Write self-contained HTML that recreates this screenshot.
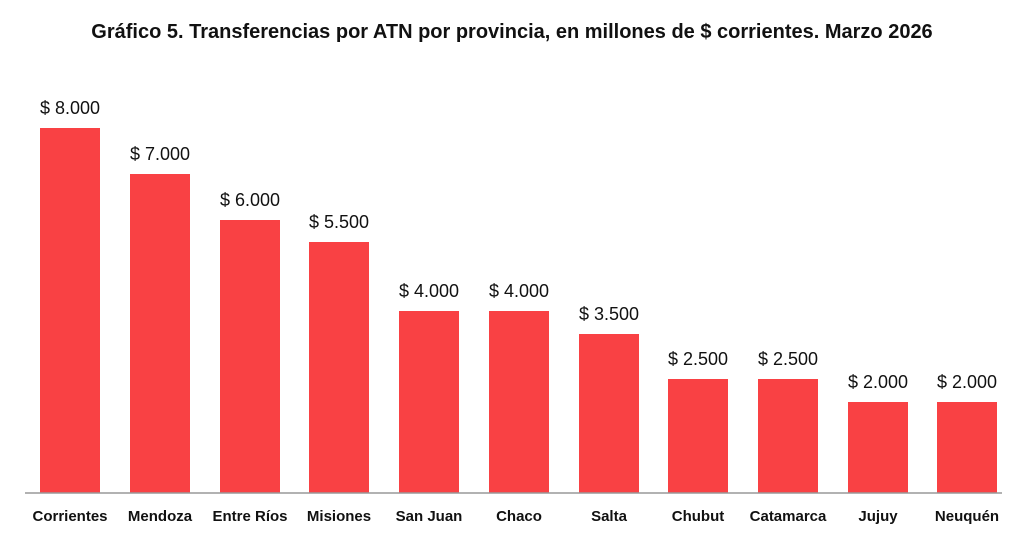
<!DOCTYPE html>
<html><head><meta charset="utf-8"><style>
body{margin:0;background:#fff;width:1024px;height:550px;overflow:hidden}
</style></head><body>
<svg width="1024" height="550" xmlns="http://www.w3.org/2000/svg">
<text x="512" y="38" text-anchor="middle" font-family="'Liberation Sans Narrow','Liberation Sans',sans-serif" font-weight="bold" font-size="20" fill="#111">Gráfico 5. Transferencias por ATN por provincia, en millones de $ corrientes. Marzo 2026</text>
<g fill="#f94144">
<rect x="40" y="128" width="60" height="365"/>
<rect x="130" y="174" width="60" height="319"/>
<rect x="220" y="220" width="60" height="273"/>
<rect x="309" y="242" width="60" height="251"/>
<rect x="399" y="311" width="60" height="182"/>
<rect x="489" y="311" width="60" height="182"/>
<rect x="579" y="334" width="60" height="159"/>
<rect x="668" y="379" width="60" height="114"/>
<rect x="758" y="379" width="60" height="114"/>
<rect x="848" y="402" width="60" height="91"/>
<rect x="937" y="402" width="60" height="91"/>
</g>
<line x1="25" y1="493" x2="1002" y2="493" stroke="#999" stroke-width="1.5"/>
<g font-family="'Liberation Sans',sans-serif" font-size="18" fill="#111" text-anchor="middle">
<text x="70" y="114">$ 8.000</text>
<text x="160" y="160">$ 7.000</text>
<text x="250" y="206">$ 6.000</text>
<text x="339" y="228">$ 5.500</text>
<text x="429" y="297">$ 4.000</text>
<text x="519" y="297">$ 4.000</text>
<text x="609" y="320">$ 3.500</text>
<text x="698" y="365">$ 2.500</text>
<text x="788" y="365">$ 2.500</text>
<text x="878" y="388">$ 2.000</text>
<text x="967" y="388">$ 2.000</text>
</g>
<g font-family="'Liberation Sans Narrow','Liberation Sans',sans-serif" font-weight="bold" font-size="15" fill="#111" text-anchor="middle">
<text x="70" y="521">Corrientes</text>
<text x="160" y="521">Mendoza</text>
<text x="250" y="521">Entre Ríos</text>
<text x="339" y="521">Misiones</text>
<text x="429" y="521">San Juan</text>
<text x="519" y="521">Chaco</text>
<text x="609" y="521">Salta</text>
<text x="698" y="521">Chubut</text>
<text x="788" y="521">Catamarca</text>
<text x="878" y="521">Jujuy</text>
<text x="967" y="521">Neuquén</text>
</g>
</svg>
</body></html>
